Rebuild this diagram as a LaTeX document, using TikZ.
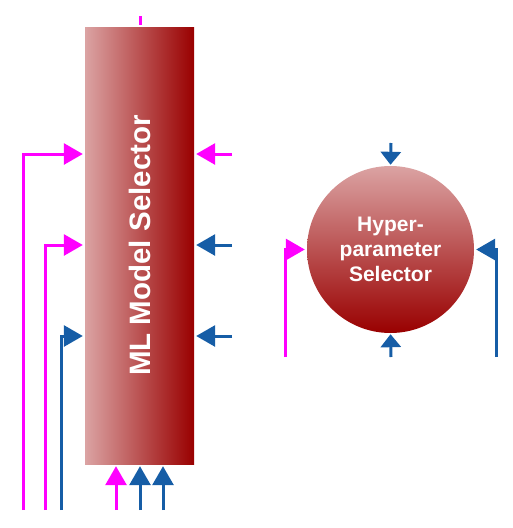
\documentclass[tikz,border=0pt]{standalone}
\usepackage{fontspec}
\setmainfont{Liberation Sans}
\usetikzlibrary{arrows.meta,calc}
\definecolor{mag}{HTML}{FF00FF}
\definecolor{blu}{HTML}{165DA6}
\definecolor{lightred}{HTML}{DBA3A3}
\definecolor{darkred}{HTML}{990000}
\tikzset{
  magline/.style={draw=mag,line width=3pt,-{Triangle[length=19pt,width=21pt]},shorten >=2pt},
  bluline/.style={draw=blu,line width=3pt,-{Triangle[length=19pt,width=21pt]},shorten >=2pt},
  blusmall/.style={draw=blu,line width=3pt,-{Triangle[length=13pt,width=20pt]},shorten >=1pt},
  labeltext/.style={text=white,font=\bfseries}
}
\begin{document}
\begin{tikzpicture}[x=1pt,y=-1pt]
\useasboundingbox (0,0) rectangle (512,528);
% ML Model Selector box
\node[rectangle,minimum width=109pt,minimum height=437pt,inner sep=0pt,
      left color=lightred,right color=darkred,draw=none] (box) at (139.5,245.5) {};
\fill[lightred] (box.north west) rectangle ([xshift=2.5pt]box.south west);
\node[labeltext,rotate=90,font=\fontsize{29.5}{33}\selectfont\bfseries] (boxlabel) at (box.center) {ML Model Selector};
% Hyperparameter Selector circle
\node[circle,minimum size=167pt,inner sep=0pt,
      top color=lightred,bottom color=darkred,draw=none] (hyp) at (390.5,249.5) {};
\node[labeltext,align=center,font=\fontsize{21}{25}\selectfont\bfseries] (hyplabel) at (hyp.center) {Hyper-\\parameter\\Selector};

% free ends
\coordinate (topA) at (140,16);
\coordinate (topB) at (140,25);
\coordinate (l1) at (23,510);
\coordinate (l2) at (45,510);
\coordinate (l3) at (61,510);
\coordinate (r1) at (232,154);
\coordinate (r2) at (232,245);
\coordinate (r3) at (232,336);
\coordinate (b1) at (116,510);
\coordinate (b2) at (140,510);
\coordinate (b3) at (163,510);
\coordinate (ct) at (391,143);
\coordinate (cb) at (391,357);
\coordinate (cl) at (285,357);
\coordinate (cr) at (496,357);

% top stub
\draw[draw=mag,line width=3pt] (topA) -- (topB);
% left inputs
\draw[magline] (l1) |- (box.west |- 0,154);
\draw[magline] (l2) |- (box.west |- 0,245);
\draw[bluline] (l3) |- (box.west |- 0,336);
% right inputs
\draw[magline] (r1) -- (box.east |- r1);
\draw[bluline] (r2) -- (box.east |- r2);
\draw[bluline] (r3) -- (box.east |- r3);
% bottom inputs
\draw[magline] (b1) -- (b1 |- box.south);
\draw[bluline] (b2) -- (b2 |- box.south);
\draw[bluline] (b3) -- (b3 |- box.south);
% circle inputs
\draw[blusmall] (ct) -- (hyp.north);
\draw[blusmall] (cb) -- (hyp.south);
\draw[magline] (cl) |- (hyp.west);
\draw[bluline] (cr) |- (hyp.east);
\end{tikzpicture}
\end{document}
